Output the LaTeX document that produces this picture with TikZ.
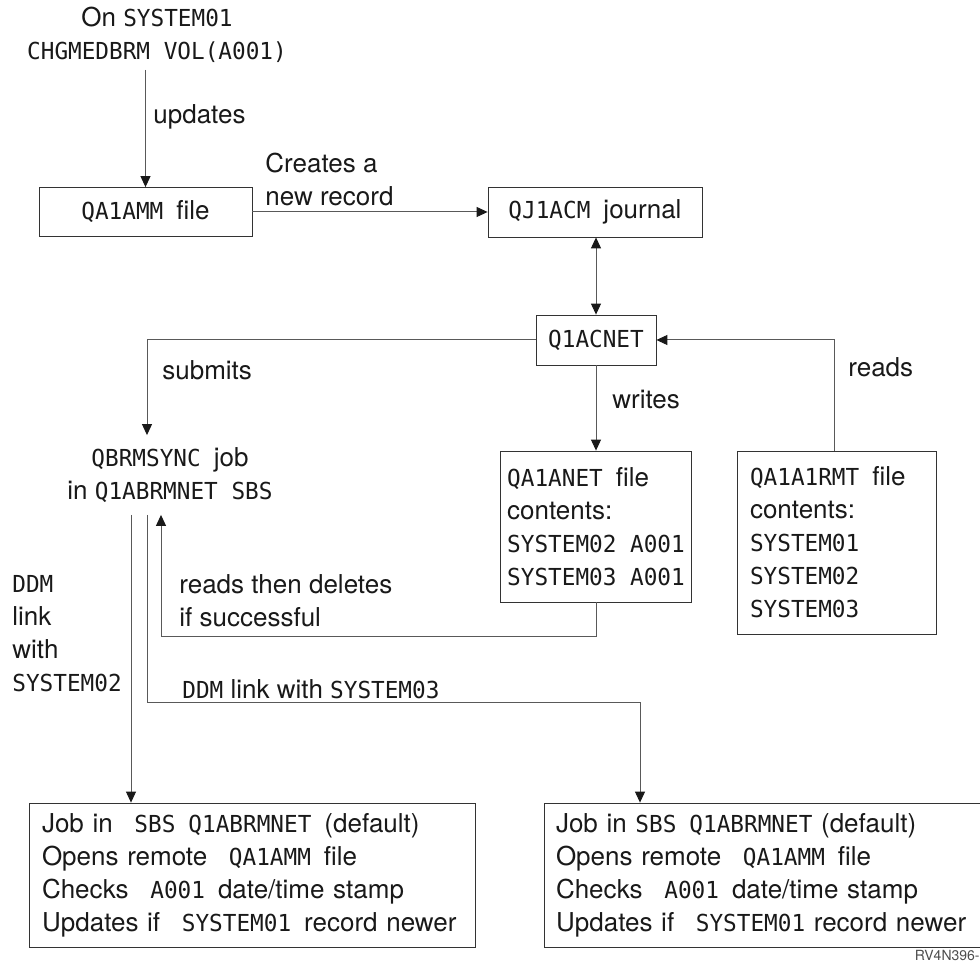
\documentclass[tikz,border=0pt]{standalone}
\usepackage{fontspec}
\setmainfont{TeX Gyre Heros}
\newfontfamily\sysfont[Scale=0.9,FakeStretch=0.97]{DejaVu Sans Mono}
\usetikzlibrary{arrows.meta}
\newcommand{\sys}[1]{{\sysfont #1}}
\tikzset{>={Triangle[width=5pt,length=5.5pt,color=black!90]}}
\tikzstyle{filebox} = [rectangle, draw=black!80, text centered, inner sep=0pt]
\tikzstyle{listbox} = [rectangle, draw=black!80, align=left, inner ysep=0pt]
\tikzstyle{label} = [align=left, anchor=west, inner sep=0pt]
\tikzstyle{connector} = [draw=black!65, line width=0.5pt, ->]

\begin{document}
\begin{tikzpicture}[x=0.5pt, y=-0.5pt, font=\fontsize{13}{16.5}\selectfont, text=black!90]
            \useasboundingbox (0,0) rectangle (980,972);
            \node (cmd) [align=center] at (157,35) {On \sys{SYSTEM01}\\\sys{CHGMEDBRM VOL(A001)}};
            \node (amm) [filebox, minimum width=106.5pt, minimum height=24.5pt] at (145.5,212) {\sys{QA1AMM}\enspace file};
            \node (acm) [filebox, minimum width=107pt, minimum height=25pt] at (595,212) {\sys{QJ1ACM}\enspace journal};
            \node (acnet) [filebox, minimum width=60pt, minimum height=25pt] at (596,340) {\sys{Q1ACNET}};
            \node (sync) [align=center, inner ysep=6pt] at (170,475) {\sys{QBRMSYNC}\enspace job\\in \sys{Q1ABRMNET SBS}};
            \node (anet) [listbox, minimum width=93.5pt, minimum height=75.5pt] at (596,526.5) {\sys{QA1ANET}\enspace file\\contents:\\\sys{SYSTEM02 A001}\\\sys{SYSTEM03 A001}};
            \node (rmt) [listbox, text width=86.5pt, inner xsep=6.5pt, minimum height=91.5pt] at (836.5,542.5) {\sys{QA1A1RMT}\enspace file\\contents:\\\sys{SYSTEM01}\\\sys{SYSTEM02}\\\sys{SYSTEM03}};
            \node (jobB) [listbox, text width=210pt, inner xsep=6.5pt, minimum height=72pt] at (252,875) {Job in \enspace\sys{SBS}\enspace\sys{Q1ABRMNET}\enspace(default)\\Opens remote \enspace\sys{QA1AMM}\enspace file\\Checks \enspace\sys{A001}\enspace date/time stamp\\Updates if \enspace\sys{SYSTEM01}\enspace record newer};
            \node (jobC) [listbox, text width=208pt, inner xsep=6pt, minimum height=72pt] at (764,875) {Job in \sys{SBS}\enspace\sys{Q1ABRMNET} (default)\\Opens remote \enspace\sys{QA1AMM}\enspace file\\Checks \enspace\sys{A001}\enspace date/time stamp\\Updates if \enspace\sys{SYSTEM01} record newer};
            % labels on the connectors
            \node (updates) [label] at (153,117) {updates};
            \node (creates) [label] at (265,179) {Creates a\\new record};
            \node (submits) [label] at (162,370) {submits};
            \node (writes) [label] at (612,400) {writes};
            \node (reads) [label] at (848,367) {reads};
            \node (readback) [label] at (179,601) {reads then deletes\\if successful};
            \node (ddm2) [label] at (12,634) {\sys{DDM}\\link\\with\\\sys{SYSTEM02}};
            \node (ddm3) [label] at (182,689) {\sys{DDM} link with \sys{SYSTEM03}};
            \node (fig) [anchor=east, inner sep=0pt, font=\fontsize{7}{8}\selectfont, text=black!70] at (980,955) {RV4N396-};
            \coordinate (lnk2) at (131,0);
            \coordinate (lnk3) at (147,0);
            \coordinate (back) at (161,0);
            \coordinate (turn3) at (640,702);
            \draw [connector] (amm.north |- cmd.south) -- (amm.north);
            \draw [connector] (amm) -- (acm);
            \draw [connector,<->] (acm.south -| acnet.north) -- (acnet.north);
            \draw [connector] (acnet.west) -| (sync.north -| lnk3);
            \draw [connector] (acnet.south) -- (acnet.south |- anet.north);
            \draw [connector] (rmt.north -| 834,0) |- (acnet.east);
            \draw [connector] (anet.south) -- ++(0,34) -| (sync.south -| back);
            \draw [connector] (sync.south -| lnk2) -- (lnk2 |- jobB.north);
            \draw [connector] (sync.south -| lnk3) |- (turn3) -- (turn3 |- jobC.north);
        \end{tikzpicture}
\end{document}
